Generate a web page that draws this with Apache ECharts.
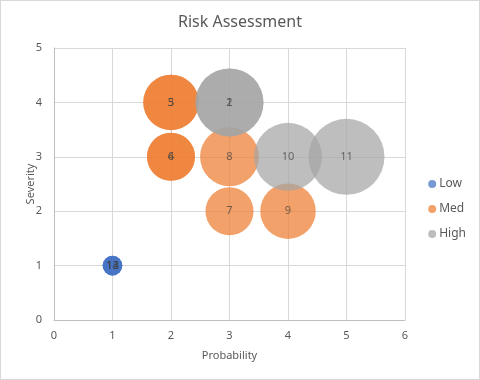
<!DOCTYPE html>
<html><head><meta charset="utf-8">
<script src="https://cdn.jsdelivr.net/npm/echarts@6/dist/echarts.min.js"></script>
<style>
html,body{margin:0;padding:0;background:#fff;}
#c{width:478px;height:378px;border:1px solid #d9d9d9;}
</style></head>
<body><div id="c"></div>
<script>
// Data: [probability, severity, bubbleSize, id]
const seriesNames = ["Low", "Med", "High"];
const lowPoints = [[1,1,1,12],[1,1,1,13],[1,1,1,14]];
const medPoints = [[2,4,8,3],[2,4,8,5],[2,3,6,4],[2,3,6,6],[3,2,6,7],[3,3,9,8],[4,2,8,9]];
const highPoints = [[3,4,12,1],[3,4,12,2],[4,3,12,10],[5,3,15,11]];
const xTicks = [0,1,2,3,4,5,6];
const yTicks = [0,1,2,3,4,5];
const colors = ["#4472C4", "#ED7D31", "#A5A5A5"];

const maxSize = 15, maxDiam = 76;
const sizeFn = v => maxDiam * Math.sqrt(v[2] / maxSize);
const font = "'Noto Sans', 'Liberation Sans', sans-serif";

function mk(name, data, color){
  return {
    name, type:'scatter', data,
    symbolSize: sizeFn,
    itemStyle:{color, opacity:0.72},
    label:{show:true, position:'inside', formatter:p=>p.value[3], color:'#404040', fontSize:11, fontFamily:font},
    emphasis:{disabled:true}
  };
}
const chart = echarts.init(document.getElementById('c'), null, {renderer:'canvas'});
chart.setOption({
  animation:false,
  color: colors,
  title:{text:'Risk Assessment', left:'center', top:8, textStyle:{fontSize:16, fontWeight:'normal', color:'#595959', fontFamily:font}},
  grid:{left:53, right:74, top:47, bottom:59},
  legend:{orient:'vertical', right:8, top:172, itemGap:13, itemWidth:8, itemHeight:8, icon:'circle',
    textStyle:{fontSize:12, color:'#595959', fontFamily:font, padding:[0,0,0,-2]}, data:seriesNames},
  xAxis:{type:'value', min:xTicks[0], max:xTicks[xTicks.length-1], interval:1,
    name:'Probability', nameLocation:'middle', nameGap:30, nameTextStyle:{fontSize:11, color:'#595959', fontFamily:font},
    axisLine:{show:true, lineStyle:{color:'#bfbfbf'}}, axisTick:{show:false},
    axisLabel:{color:'#595959', fontSize:11, fontFamily:font, margin:10},
    splitLine:{show:true, lineStyle:{color:'#d9d9d9'}}},
  yAxis:{type:'value', min:yTicks[0], max:yTicks[yTicks.length-1], interval:1,
    name:'Severity', nameLocation:'middle', nameGap:18, nameMoveOverlap:false, nameTextStyle:{fontSize:11, color:'#595959', fontFamily:font},
    axisLine:{show:true, lineStyle:{color:'#bfbfbf'}}, axisTick:{show:false},
    axisLabel:{color:'#595959', fontSize:11, fontFamily:font, margin:12},
    splitLine:{show:true, lineStyle:{color:'#d9d9d9'}}},
  series:[mk(seriesNames[0], lowPoints, colors[0]), mk(seriesNames[1], medPoints, colors[1]), mk(seriesNames[2], highPoints, colors[2])]
});
</script></body></html>
